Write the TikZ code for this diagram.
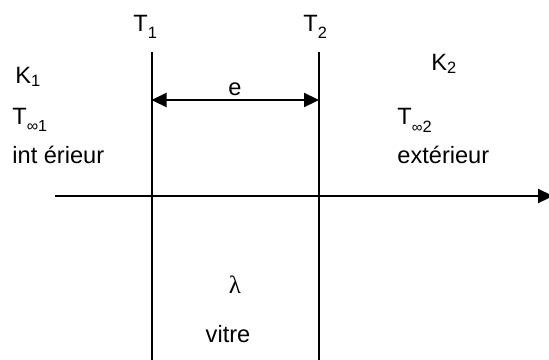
\documentclass[tikz,border=0pt]{standalone}
\usepackage{fontspec}
\setmainfont{Liberation Sans}
\newfontfamily\greekfont{Liberation Serif}
\usetikzlibrary{arrows.meta}
\tikzset{
  lbl/.style={inner sep=0pt, font=\fontsize{11.8}{14}\selectfont},
  wall/.style={line width=1pt},
  dimline/.style={{Triangle[length=7.5pt,width=7pt]}-{Triangle[length=7.5pt,width=7pt]}, line width=1.1pt},
  axisline/.style={-{Triangle[length=7.5pt,width=7pt]}, line width=1.1pt}
}
\newcommand{\lo}[2]{\raisebox{-#1}{\fontsize{8.2}{9}\selectfont #2}}

\begin{document}
\begin{tikzpicture}[x=0.5pt, y=-0.5pt]
  \useasboundingbox (0,0) rectangle (549,359);

  % walls of the pane
  \coordinate (w1top) at (151.5,52);
  \coordinate (w1bot) at (151.5,362);
  \coordinate (w2top) at (319,52);
  \coordinate (w2bot) at (319,362);
  \draw[wall] (w1top) -- (w1bot);
  \draw[wall] (w2top) -- (w2bot);

  % x axis
  \coordinate (ax0) at (55,196);
  \coordinate (ax1) at (553,196);
  \draw[axisline] (ax0) -- (ax1);

  % thickness
  \coordinate (e1) at (151.5,100);
  \coordinate (e2) at (319,100);
  \draw[dimline] (e1) -- (e2);
  \node[lbl, anchor=base] (thick) at (235,95.5) {e};

  % surface temperatures
  \node[lbl, anchor=base west] (tone) at (133,31) {T\lo{3.5pt}{1}};
  \node[lbl, anchor=base west] (ttwo) at (303,31) {T\lo{3.5pt}{2}};

  % inside
  \node[lbl, anchor=base west] (kone) at (15,83) {K\lo{1.5pt}{1}};
  \node[lbl, anchor=base west] (tinfone) at (12,124)
    {T\raisebox{-3.5pt}{\fontsize{8}{8}\selectfont ∞1}};
  \node[lbl, anchor=base west] (inside) at (12,163) {int érieur};

  % outside
  \node[lbl, anchor=base west] (ktwo) at (431,70) {K\lo{1.5pt}{2}};
  \node[lbl, anchor=base west] (tinftwo) at (397,124)
    {T\raisebox{-4pt}{\fontsize{7.5}{8}\selectfont ∞}\raisebox{-4pt}{\fontsize{8.2}{9}\selectfont 2}};
  \node[lbl, anchor=base west] (outside) at (397,163) {extérieur};

  % glass
  \node[lbl, anchor=base, font=\fontsize{12.5}{14}\greekfont] (lam) at (235,293) {λ};
  \node[lbl, anchor=base] (glass) at (228,342) {vitre};
\end{tikzpicture}
\end{document}
